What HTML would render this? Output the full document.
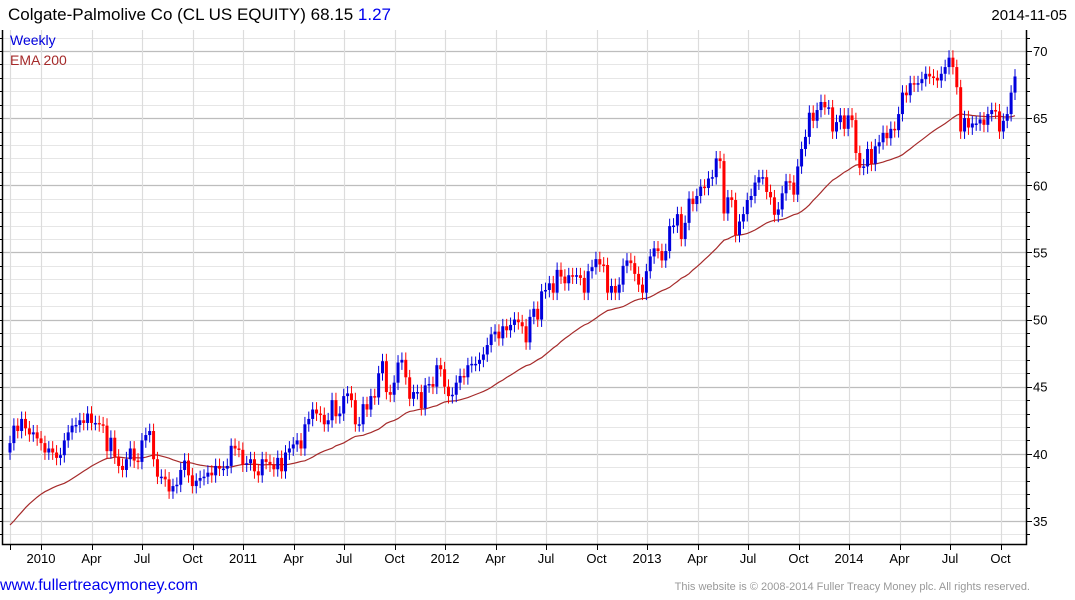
<!DOCTYPE html>
<html><head><meta charset="utf-8"><style>
body{margin:0;background:#fff;width:1075px;height:600px;overflow:hidden;font-family:"Liberation Sans",Arial,sans-serif}
svg{position:absolute;left:0;top:0}
</style></head><body>
<svg id="chart" width="1075" height="600" xmlns="http://www.w3.org/2000/svg">
<text x="8" y="20" font-size="17" fill="#000">Colgate-Palmolive Co (CL US EQUITY) 68.15 <tspan fill="#0000ee">1.27</tspan></text>
<text x="1067" y="20" font-size="15" text-anchor="end" fill="#000">2014-11-05</text>
<g id="grid"></g>
<g id="ema"></g>
<g id="candles"></g>
<g id="axes"></g>
<text x="10" y="45" font-size="14" fill="#0000dd">Weekly</text>
<text x="10" y="65" font-size="14" fill="#a52a2a">EMA 200</text>
<text x="0" y="590" font-size="16" fill="#0000ee">www.fullertreacymoney.com</text>
<text x="1030" y="590" font-size="11" fill="#999" text-anchor="end">This website is © 2008-2014 Fuller Treacy Money plc. All rights reserved.</text>
</svg>
<script>
const closes = [
40.8,42.1,41.7,42.6,41.9,41.45,41.6,41.15,40.8,40.1,40.4,40.1,39.7,39.9,41.0,41.6,42.1,42.15,42.5,42.3,43.0,42.3,42.3,42.2,42.1,40.2,41.2,39.8,39.1,38.8,39.6,40.4,39.5,39.4,41.0,41.4,41.7,39.6,38.3,38.3,38.1,37.2,37.6,37.7,38.8,39.5,38.4,37.6,38.0,38.2,38.3,38.6,38.4,39.1,38.9,38.9,39.1,40.6,40.4,40.3,39.2,39.3,39.6,38.7,38.4,
39.6,39.4,39.2,38.85,39.7,38.7,40.1,40.4,40.7,41.0,40.4,42.2,42.6,43.3,43.0,42.9,42.2,42.5,44.0,42.8,43.0,44.3,44.5,44.0,42.2,42.2,43.7,43.3,44.3,44.2,46.0,46.9,44.6,44.4,45.3,46.8,47.0,45.7,44.1,44.6,44.6,43.4,45.1,45.2,45.0,46.6,46.3,45.0,44.3,44.4,45.3,45.8,45.7,46.6,46.7,46.7,47.0,47.4,48.1,48.9,49.1,48.6,
49.5,49.2,49.6,50.0,49.8,49.5,48.3,50.2,50.8,50.0,52.1,52.2,52.7,52.0,53.7,53.2,52.7,53.3,53.2,53.3,53.1,52.0,53.6,53.9,54.5,54.1,54.06,52.0,52.5,52.0,52.6,54.0,54.4,54.2,53.4,52.6,52.0,53.6,54.7,55.3,55.1,54.4,55.1,
56.96,57.0,57.85,56.0,57.2,59.0,58.6,59.2,59.9,59.8,60.5,60.6,62.0,61.8,57.9,59.1,58.9,56.3,57.3,57.85,58.9,59.2,60.2,60.6,60.6,59.5,59.1,57.8,58.2,59.4,60.3,60.2,59.3,61.4,62.7,
63.6,65.4,64.8,65.6,66.2,65.8,65.8,64.0,64.7,65.2,64.2,65.2,64.85,62.4,61.3,61.4,62.7,61.6,62.9,63.2,63.9,63.5,64.2,64.1,65.3,66.9,66.7,67.6,67.5,67.6,67.9,68.3,68.1,68.0,67.8,68.3,68.8,69.5,68.8,67.3,64.0,65.0,64.3,64.6,64.6,64.9,64.5,65.3,65.6,65.5,64.0,64.8,65.3,66.9,68.1];
const firstOpen = 40.1;
const emaSeed = 34.7;
const emaPeriodWeeks = 40;
const yTicks = [35,40,45,50,55,60,65,70];
const xTickLabels = ["2010","Apr","Jul","Oct","2011","Apr","Jul","Oct","2012","Apr","Jul","Oct","2013","Apr","Jul","Oct","2014","Apr","Jul","Oct"];

const NS="http://www.w3.org/2000/svg";
const L=2,R=1026,T=30,B=544;
function yS(v){return 521-(v-35)*13.43;}
function xS(i){return 10+i*(1015-10)/(closes.length-1);}
function mk(tag,attrs,parent){const e=document.createElementNS(NS,tag);for(const k in attrs)e.setAttribute(k,attrs[k]);parent.appendChild(e);return e;}
const grid=document.getElementById('grid'),axes=document.getElementById('axes'),cg=document.getElementById('candles'),eg=document.getElementById('ema');
for(let v=34;v<=71;v++){
  const y=Math.round(yS(v))+0.5;
  const major=v%5===0;
  const ln=mk('line',{x1:L,x2:R,y1:y,y2:y,stroke:major?'#bdbdbd':'#e6e6e6','stroke-width':major?1.3:1},grid);
  
  
  const tk=mk('line',{x1:R,x2:R+(major?6:4),y1:y,y2:y,stroke:'#000'},axes);
  
  
  const tl=mk('line',{x1:L-3,x2:L,y1:y,y2:y,stroke:'#000'},axes);
  
  
}
yTicks.forEach(v=>{
  const t=mk('text',{x:R+7,y:yS(v)+5,'font-size':13,fill:'#000'},axes);
  t.textContent=v;
  
  
});
const xg=[10];
xTickLabels.forEach((lab,i)=>{
  const x=41+i*50.5;xg.push(x);
  const t=mk('text',{x:x,y:563,'font-size':13,'text-anchor':'middle',fill:'#000'},axes);
  t.textContent=lab;
  
  
});
xg.forEach(x=>{
  const xx=Math.round(x)+0.5;
  const g=mk('line',{x1:xx,x2:xx,y1:T,y2:B,stroke:'#dcdcdc','stroke-width':1.2},grid);
  
  
  const tk=mk('line',{x1:xx,x2:xx,y1:B,y2:B+6,stroke:'#000'},axes);
  
  
});
const fr=mk('path',{d:`M${L+0.5},${T} V${B+0.5} H${R+0.5} V${T}`,fill:'none',stroke:'#000','stroke-width':1.5},axes);


const a=2/(emaPeriodWeeks+1);let e=emaSeed;const pts=[];
closes.forEach((c,i)=>{pts.push(xS(i).toFixed(1)+','+yS(e).toFixed(1));e=e+a*(c-e);});
const pl=mk('polyline',{points:pts.join(' '),fill:'none',stroke:'#a52a2a','stroke-width':1.2},eg);


closes.forEach((c,i)=>{
  const o=i===0?firstOpen:closes[i-1];
  const up=c>=o;const col=up?'#0000dd':'#ff0000';
  const x=xS(i);
  const hi=Math.max(o,c)+0.55,lo=Math.min(o,c)-0.55;
  const w=mk('line',{x1:x,x2:x,y1:yS(hi),y2:yS(lo),stroke:col,'stroke-width':1},cg);
  
  
  const top=yS(Math.max(o,c)),bot=yS(Math.min(o,c));
  const r=mk('rect',{x:x-1.5,y:top,width:3,height:Math.max(1.5,bot-top),fill:col},cg);
  
  
});
</script>
</body></html>
